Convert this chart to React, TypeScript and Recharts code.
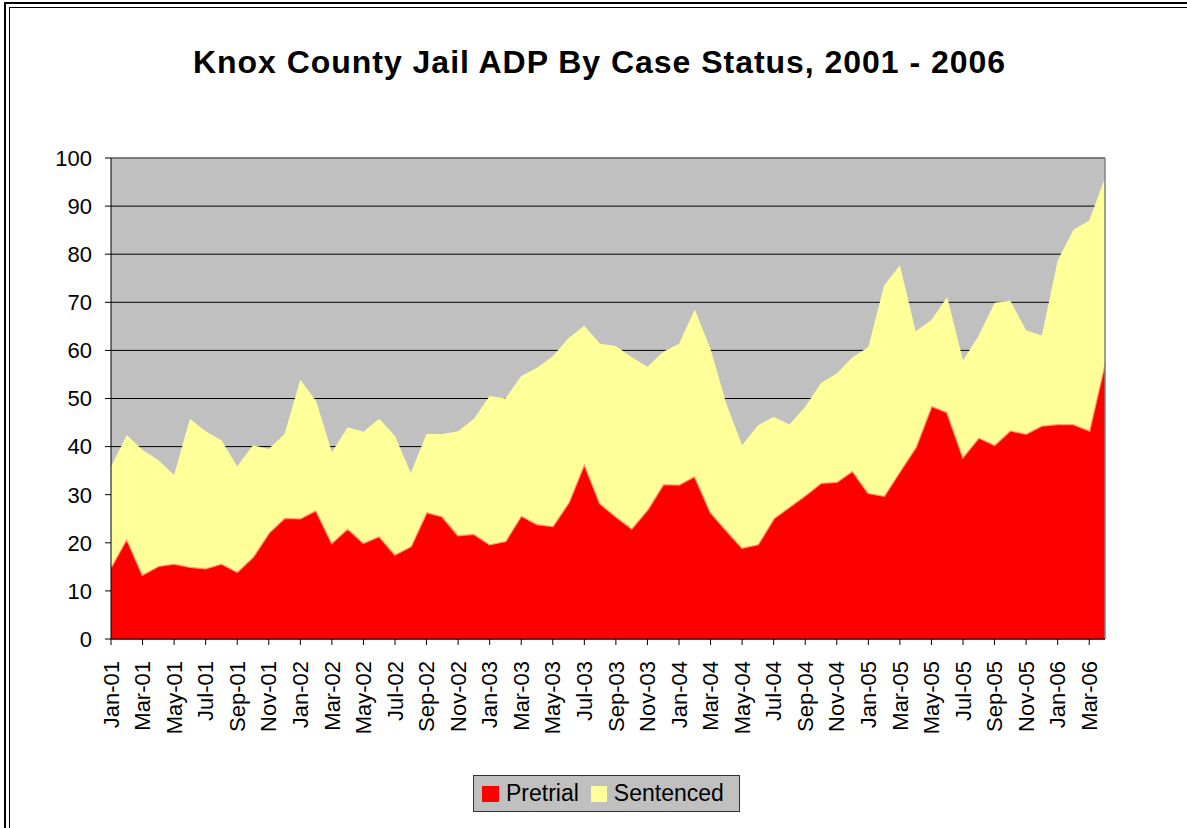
import React from 'react';
import {
  AreaChart, Area, XAxis, YAxis, CartesianGrid, ReferenceLine,
} from 'recharts';

const months = [
  'Jan-01', 'Feb-01', 'Mar-01', 'Apr-01', 'May-01', 'Jun-01', 'Jul-01', 'Aug-01', 'Sep-01', 'Oct-01', 'Nov-01', 'Dec-01',
  'Jan-02', 'Feb-02', 'Mar-02', 'Apr-02', 'May-02', 'Jun-02', 'Jul-02', 'Aug-02', 'Sep-02', 'Oct-02', 'Nov-02', 'Dec-02',
  'Jan-03', 'Feb-03', 'Mar-03', 'Apr-03', 'May-03', 'Jun-03', 'Jul-03', 'Aug-03', 'Sep-03', 'Oct-03', 'Nov-03', 'Dec-03',
  'Jan-04', 'Feb-04', 'Mar-04', 'Apr-04', 'May-04', 'Jun-04', 'Jul-04', 'Aug-04', 'Sep-04', 'Oct-04', 'Nov-04', 'Dec-04',
  'Jan-05', 'Feb-05', 'Mar-05', 'Apr-05', 'May-05', 'Jun-05', 'Jul-05', 'Aug-05', 'Sep-05', 'Oct-05', 'Nov-05', 'Dec-05',
  'Jan-06', 'Feb-06', 'Mar-06', 'Apr-06',
];

const pretrial = [
  15.0, 20.9, 13.4, 15.2, 15.7, 15.0, 14.7, 15.7, 14.0, 17.1, 22.1, 25.2,
  25.1, 26.8, 20.0, 23.0, 20.0, 21.4, 17.6, 19.3, 26.4, 25.5, 21.6, 21.9,
  19.7, 20.4, 25.7, 23.9, 23.5, 28.4, 36.5, 28.2, 25.5, 23.0, 26.9, 32.2,
  32.1, 33.9, 26.4, 22.6, 19.0, 19.7, 25.1, 27.5, 29.9, 32.5, 32.7, 35.0,
  30.4, 29.8, 34.9, 39.9, 48.5, 47.2, 37.9, 41.9, 40.4, 43.4, 42.7, 44.4,
  44.7, 44.7, 43.4, 57.6,
];

const sentenced = [
  20.8, 21.5, 25.9, 22.0, 18.4, 30.8, 28.5, 25.6, 21.9, 23.2, 17.4, 17.4,
  28.8, 22.7, 18.8, 21.0, 23.1, 24.4, 24.6, 15.2, 16.2, 17.1, 21.6, 23.9,
  30.8, 29.6, 29.0, 32.5, 35.3, 34.2, 28.6, 33.2, 35.4, 35.6, 29.7, 27.5,
  29.3, 34.6, 33.9, 26.3, 21.3, 24.7, 21.1, 17.1, 18.4, 20.7, 22.5, 23.6,
  30.3, 43.7, 42.8, 24.1, 17.8, 23.9, 20.0, 21.2, 29.5, 26.9, 21.5, 18.7,
  34.0, 40.4, 43.6, 38.3,
];

const yTicks = [0, 10, 20, 30, 40, 50, 60, 70, 80, 90, 100];

const data = months.map((m, i) => ({ month: m, pretrial: pretrial[i], sentenced: sentenced[i] }));

const FONT = '"Liberation Sans", Arial, sans-serif';

const MonthTick = (props: any) => {
  const { x, y, payload } = props;
  return (
    <g transform={`translate(${x},${y})`}>
      <text transform="rotate(-90)" x={-14} y={0} dy="0.35em" textAnchor="end"
        fontSize={22} fontFamily={FONT} fill="#000">
        {payload.value}
      </text>
    </g>
  );
};

export default function App() {
  return (
    <div style={{ position: 'absolute', left: 0, top: 0, width: 1187, height: 828, background: '#fff', overflow: 'hidden' }}>
      <div style={{ position: 'absolute', left: 4, top: 2, width: 1300, height: 900, border: '2px solid #000' }} />
      <div style={{ position: 'absolute', left: 9, top: 7, width: 1300, height: 900, border: '1px solid #000' }} />

      <AreaChart width={1187} height={828} data={data}
        margin={{ top: 158, right: 82, bottom: 69, left: 0 }}
        style={{ position: 'absolute', left: 0, top: 0 }}>
        <CartesianGrid vertical={false} stroke="#000" fill="#c0c0c0" fillOpacity={1} />
        <XAxis dataKey="month" interval={1} height={120} tickSize={6}
          axisLine={{ stroke: '#000' }} tickLine={{ stroke: '#000' }} tick={<MonthTick />} />
        <YAxis domain={[0, 100]} ticks={yTicks} width={111} tickSize={6} tickMargin={13}
          axisLine={{ stroke: '#000' }} tickLine={{ stroke: '#000' }}
          tick={{ fontSize: 22, fontFamily: FONT, fill: '#000' }} />
        <Area type="linear" dataKey="pretrial" stackId="a" fill="#ff0000" fillOpacity={1}
          stroke="#ff9966" strokeWidth={2.5} dot={false} activeDot={false} isAnimationActive={false} />
        <Area type="linear" dataKey="sentenced" stackId="a" fill="#ffff99" fillOpacity={1}
          stroke="none" dot={false} activeDot={false} isAnimationActive={false} />
        <ReferenceLine y={100} stroke="#808080" strokeWidth={1.5} />
        <ReferenceLine x="Apr-06" stroke="#808080" strokeWidth={1.5} />
      </AreaChart>

      <svg width={1187} height={100} style={{ position: 'absolute', left: 0, top: 0 }}>
        <text x={599} y={73} textAnchor="middle" fontSize={32} fontWeight="bold" fontFamily={FONT}
          textLength={812} lengthAdjust="spacing" fill="#000">
          Knox County Jail ADP By Case Status, 2001 - 2006
        </text>
      </svg>

      <div style={{
        position: 'absolute', left: 473, top: 775, width: 265, height: 35,
        border: '1px solid #333', background: '#c0c0c0',
        fontFamily: FONT, fontSize: 23, color: '#000',
        display: 'flex', alignItems: 'center', boxSizing: 'content-box',
      }}>
        <span style={{ display: 'inline-block', width: 17, height: 16, background: '#ff0000', marginLeft: 8, marginRight: 7 }} />
        <span>Pretrial</span>
        <span style={{ display: 'inline-block', width: 16, height: 16, background: '#ffff99', marginLeft: 12, marginRight: 7 }} />
        <span>Sentenced</span>
      </div>
    </div>
  );
}
